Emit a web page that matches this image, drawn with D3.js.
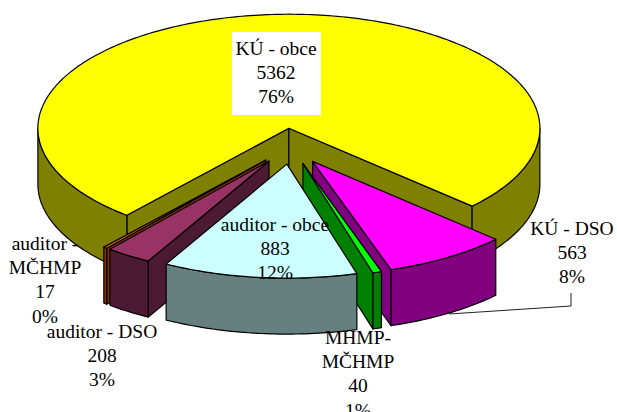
<!DOCTYPE html>
<html>
<head>
<meta charset="utf-8">
<script src="https://cdn.jsdelivr.net/npm/d3@7"></script>
<style>
html, body { margin: 0; padding: 0; background: #fff; overflow: hidden; }
text { font-family: "Liberation Serif", "Times New Roman", serif; font-size: 19.5px; fill: #000; }
</style>
</head>
<body>
<div id="chart"></div>
<script>
// chart values
var categories = ["KÚ - obce", "KÚ - DSO", "MHMP-MČHMP", "auditor - obce", "auditor - DSO", "auditor - MČHMP"];
var values = [5362, 563, 40, 883, 208, 17];
var labelLines = [["KÚ - obce"], ["KÚ - DSO"], ["MHMP-", "MČHMP"], ["auditor - obce"], ["auditor - DSO"], ["auditor -", "MČHMP"]];

// styling per slice
var topColors = ["#ffff00", "#ff00ff", "#00ff00", "#ccffff", "#993366", "#ff6600"];
var wallColors = ["#808000", "#800080", "#008000", "#668080", "#4d1a33", "#803300"];
// slices are painted back to front
var paintOrder = [0, 5, 4, 1, 2, 3];
var labelCenters = [[276, 49], [572, 229], [358, 338], [275, 225], [102, 332], [45, 244]];

// pie geometry
var width = 617, height = 412;
var cx = 291.2, cy = 146.2, rx = 251, ry = 114, depth = 56;
var explode = 0.158;
var lineHeight = 24.2;
var rad = Math.PI / 180;
var startAngle = 220.2 * rad;

var xScale = d3.scaleLinear().domain([-1, 1]).range([cx - rx, cx + rx]);
var yScale = d3.scaleLinear().domain([-1, 1]).range([cy - ry, cy + ry]);

var svg = d3.select("#chart")
    .append("svg")
    .attr("width", width)
    .attr("height", height)
    .style("display", "block");

var pie = d3.pie().sort(null).startAngle(startAngle).endAngle(startAngle + 2 * Math.PI);
var slices = pie(values);
var total = d3.sum(values);

var line = d3.line();

// point on the unit circle seen through the scales, shifted by the explode
function point(d, a, r, dy) {
    var mid = (d.startAngle + d.endAngle) / 2;
    var ux = explode * Math.sin(mid) + r * Math.sin(a);
    var uy = -explode * Math.cos(mid) - r * Math.cos(a);
    return [xScale(ux), yScale(uy) + dy];
}

function arcAngles(a0, a1) {
    var n = Math.max(2, Math.ceil((a1 - a0) / rad));
    return d3.range(n + 1).map(function(i) { return a0 + (a1 - a0) * i / n; });
}

function drawFace(pts, color) {
    svg.append("path")
        .attr("d", line(pts) + "Z")
        .attr("fill", color)
        .attr("stroke", "#000")
        .attr("stroke-width", 1.2)
        .attr("stroke-linejoin", "round");
}

function drawRadialWall(d, a, color) {
    drawFace([point(d, a, 0, 0), point(d, a, 1, 0), point(d, a, 1, depth), point(d, a, 0, depth)], color);
}

function drawOuterWall(d, a0, a1, color) {
    if (a1 <= a0) return;
    var angles = arcAngles(a0, a1);
    var upper = angles.map(function(a) { return point(d, a, 1, 0); });
    var lower = angles.slice().reverse().map(function(a) { return point(d, a, 1, depth); });
    drawFace(upper.concat(lower), color);
}

paintOrder.forEach(function(i) {
    var d = slices[i];
    var a0 = d.startAngle, a1 = d.endAngle;
    var wall = wallColors[i];

    // only walls turned to the viewer
    if (Math.sin(a0) < 0) drawRadialWall(d, a0, wall);
    if (Math.sin(a1) > 0) drawRadialWall(d, a1, wall);

    // outer wall, the front half is 90..270 deg (and again one turn later)
    [0, 2 * Math.PI].forEach(function(turn) {
        drawOuterWall(d, Math.max(a0, 90 * rad + turn), Math.min(a1, 270 * rad + turn), wall);
    });

    var rim = arcAngles(a0, a1).map(function(a) { return point(d, a, 1, 0); });
    drawFace([point(d, a0, 0, 0)].concat(rim), topColors[i]);
});

// leader line for KU - DSO
svg.append("path")
    .attr("d", line([[571, 293], [571, 306], [449, 314]]))
    .attr("fill", "none")
    .attr("stroke", "#222")
    .attr("stroke-width", 1);

// white box behind the big label
svg.append("rect")
    .attr("x", 232).attr("y", 32)
    .attr("width", 89).attr("height", 83)
    .attr("fill", "#fff");

var pct = d3.format(".0%");

categories.forEach(function(name, i) {
    var rows = labelLines[i].concat([String(values[i]), pct(values[i] / total)]);
    var t = svg.append("text").attr("text-anchor", "middle").attr("data-name", name);
    rows.forEach(function(row, j) {
        t.append("tspan")
            .attr("x", labelCenters[i][0])
            .attr("y", labelCenters[i][1] + j * lineHeight + 6)
            .text(row);
    });
});
</script>
</body>
</html>
